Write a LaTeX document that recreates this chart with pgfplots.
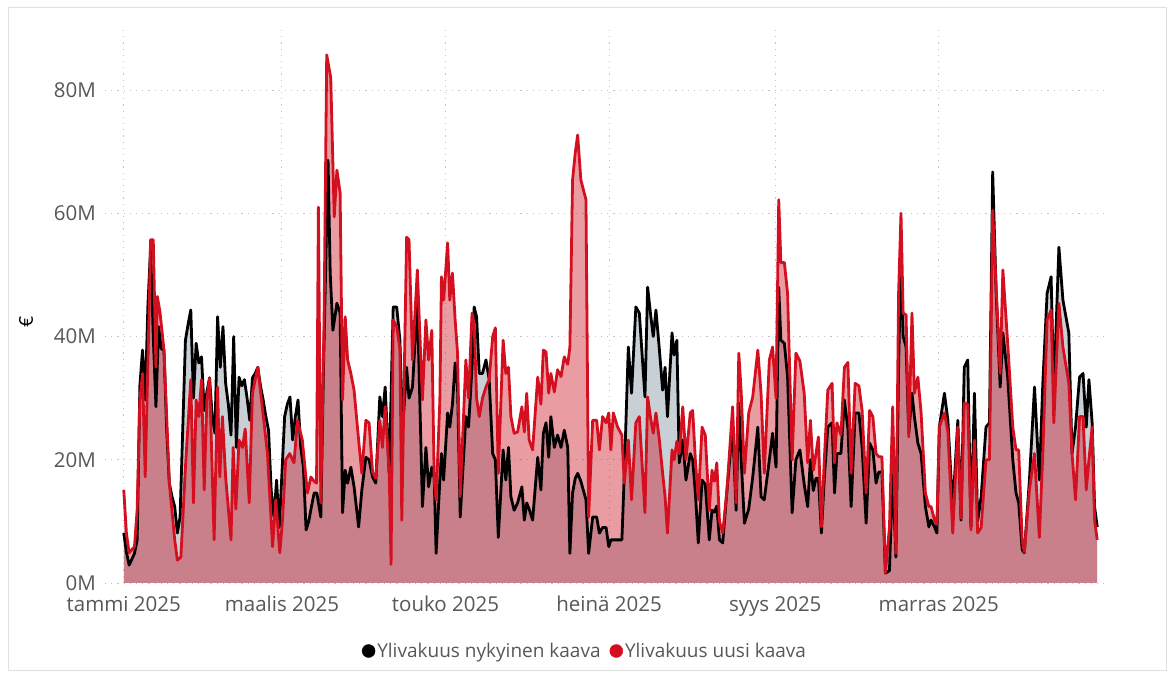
\documentclass[border=0pt]{standalone}
\usepackage{pgfplots}
\usepackage{pgfplotstable}
\pgfplotsset{compat=1.18}
\usepackage{fontspec}
\setmainfont{Open Sans}
\definecolor{redline}{HTML}{D41020}
\definecolor{redfill}{HTML}{CD1423}
\definecolor{grayfill}{HTML}{C8CFD5}
\definecolor{txtgray}{HTML}{575757}
\definecolor{gridgray}{HTML}{C4C4C4}

\pgfplotstableread{
x y
0 8.1
1 5
2 2.9
4 4.8
5 7
6 32
7 37.8
8 29.7
9 45
10 54.3
11 40
12 28.6
13 41.6
14 38
15 37.8
16 25
17 16.2
18 14
19 12.4
20 8.1
21 10.7
22 25
23 39.4
24 42
25 44.3
26 30
27 38.9
28 35.7
29 36.7
30 28
31 31
32 33.3
33 27
34 24.3
35 43.2
36 35
37 41.6
38 32.4
39 29
40 24
41 40
42 22
43 33.4
44 32
45 33
46 30
47 26.4
48 33.3
49 34
50 35
51 32
52 29.7
53 27
54 24.8
55 15
56 10.7
57 16.7
58 9
59 17.8
60 27
61 29
62 30.2
63 23.2
64 27
65 29.7
66 22
67 18.8
68 8.6
69 10
70 12.4
71 14.6
72 14.6
73.5 10.7
74.5 35
75.5 55
76.2 68.6
77 50.3
78 41
79.5 45.4
80.7 43.8
81.6 11.4
82.6 18.3
83.5 16.2
84.7 18.8
85.9 15.6
87.6 9.1
88.8 15.1
90.3 20.4
91.5 20
92.8 17.2
94 16.2
95.5 30.2
96.5 27
97.5 31.8
99 17.8
100.5 44.8
101.8 44.8
103 39.4
104 25
105.5 35
106.4 30
107.7 31.8
109.5 45.9
111.4 12.4
112.7 22
113.7 15.6
114.9 18.8
115.8 17
116.5 4.8
117.9 16.7
118.5 21
119.3 16.7
120.8 27.6
121.6 25.3
122.6 29
123.6 35.7
124.5 31.8
125.5 10.7
127.6 27
128.6 25.3
129.9 35
130.7 44.8
131.6 43.2
132.6 34
133.8 34
135.1 36.2
136.3 33
137.6 21
138.6 20
139.7 7.4
141.5 21.6
142.5 16.7
143.5 22
144.4 14
145.6 11.8
146.9 13
148.5 15.6
149.4 10.2
150.3 13
151.2 12
152.5 10.2
154.4 20.4
155.6 15.1
156.5 24.3
157.5 26
158.5 20.4
159.3 27
160.6 22
161.8 24
163.1 22
164.3 24.8
165.6 22
166.4 4.8
167.4 14.6
168.4 17
169.3 17.8
170.5 16.5
172.4 13.5
173.4 4.8
174.9 10.7
176.4 10.7
177.4 8.1
178.6 9
179.9 9
180.9 5.9
181.7 7
182.6 7
184.2 7
185.8 7
186.7 17.8
188.2 38.3
189.4 30.8
191 44.8
192.3 43.8
194.4 30.2
195.4 48
196.6 43.2
197.5 40
198.5 44.3
199.7 38.3
201 31.3
201.9 35
202.8 27
204.5 40.6
205.3 37
206.3 39.4
207.2 19.5
208.5 23.2
209.7 16.7
211.3 21
212.2 20
213.2 14.6
214.3 6.5
215.7 16.7
216.9 16
218.4 7
219.4 11.8
220.3 11.5
221.2 12.5
222.2 7
223.4 6.5
224.9 14.6
227.1 25.3
228.4 11.8
229.4 29.2
230.3 20
231.5 9.7
233.1 12
234.6 17.2
236.5 25.3
237.7 14
238.9 13.5
240.8 20
242 24.3
243.3 18.8
244.3 48
245.1 39.4
246.4 38.9
247.6 33.4
249.3 11.4
250.7 20
252.2 21.6
253.8 16
255.1 12.4
256.1 20
257.2 15
258.2 17
259.1 17
260.2 8.1
261.3 17
262.6 25.3
264.2 26
265.1 14.6
266 21
267.5 21
268.8 29.7
270.1 25
271.3 12.4
272.8 27.6
274.2 27.6
275.4 22
276.9 9.7
278.2 22.7
279.4 21.6
280.6 16.2
281.6 18
282.8 18
284.1 1.6
285.6 2
286.8 18
288 4.2
289 35
289.9 53
290.7 40
291.8 38.3
292.8 24.3
294 30.8
294.9 27
296.2 22.7
297.4 21
299 12.4
300.3 9.1
301.1 10.2
302.4 9.1
303.3 8.1
304.2 25.3
306.1 30.8
307.4 26.4
309.2 12
311.1 26.4
312.3 10.2
313.5 35
314.8 36.2
316 9.1
317.3 30.8
318.5 10
319.8 14
321.6 25.3
322.9 26
324.1 66.7
325.4 47
326.9 31.8
327.9 40.6
329.7 33.4
331.6 20
332.8 14.6
333.8 13
335.1 5.4
335.9 4.9
337.8 16.7
339.7 31.8
341.5 16.7
342.8 32.4
344.4 47
345.9 49.7
346.9 30.8
348.8 54.5
350.3 45.9
352.5 40.6
353.7 21
355 25.3
356.5 33.4
357.8 34
359 25.3
360 33
361.2 26
362.1 12.4
363.1 9.1
}\blackdata

\pgfplotstableread{
x y
0 15.1
1 8
2 4.9
4 5.9
5 12
6 29.7
7 34
8 17.2
9.5 45
10 55.7
11 55.7
12 35
12.5 46.5
13.5 44
15 37.8
17 16.2
19 7
20 3.7
21.3 4.2
23 18.8
25 33
26 13
27 29.7
28 27
29 33
30 15.1
31 29.7
32 33.3
33.7 7
35 31.8
35.8 17.2
36.8 27
38 17.2
40 7
40.8 22
41.8 12
43 23.2
44.3 22
45.3 25
46.8 13
48 30.8
50 35
51.8 28
53.6 21
55.5 5.9
56.7 13.5
58.2 4.9
59.2 10.2
60.4 20
61.9 21
63.5 19.5
64.8 26.4
66.6 23.2
68.5 14.6
69.8 17.2
71 16.5
71.9 16.2
72.6 61
73.5 13
74.7 42.2
75.7 85.7
77.2 82
78.5 59.4
79.5 67
80.7 63.3
81.6 29.7
82.6 43.2
83.5 36.2
84.7 34
85.9 31.3
87.6 23.2
88.8 17.8
90.3 26.4
91.5 26
92.8 18
94 17
95.5 26.4
96.5 22
97.5 28.6
99 18
99.7 3
100.5 42.7
101.8 41.6
103 38
103.7 10.2
105.5 56.1
106.4 55.7
107.7 36.2
109.5 50.8
111.4 29.7
112.7 42.7
113.7 36.2
114.9 41
115.8 16.7
116.5 13.5
117.9 29.7
118.5 49.7
119.3 45.9
120.8 55.2
121.6 45.9
122.6 50.3
123.6 42.7
124.5 37.3
125.5 14
127.6 36.2
128.6 30
129.9 43.8
130.7 42
131.6 30
132.6 27
133.8 30
135.1 31.8
136.3 33
137.6 40
138.6 41.4
139.7 17.8
141.5 39.4
142.5 34
143.5 35
144.4 27
145.6 24.3
146.9 24.5
148.5 28.6
149.4 24.5
150.3 30.8
151.2 23.2
152.5 21.6
154.4 33.4
155.6 29
156.5 37.8
157.5 37.5
158.5 30.8
159.3 34
160.6 31
161.8 34.6
163.1 33.5
164.3 36.7
165.6 35.5
166.4 38.3
167.4 65.4
168.4 69.8
169.3 72.7
170.5 65.4
172.4 62.2
173.4 10.7
174.9 26.4
176.4 26.4
177.4 21.6
178.6 27
179.9 26
180.9 27.6
181.7 21.6
182.6 27.6
184.2 25.3
185.8 24
186.7 16.2
188.2 23.2
189.4 13.5
191 26
192.3 27
194.4 11.4
195.4 30.2
196.6 26.5
197.5 24.3
198.5 27.6
199.7 23.5
201 17.8
201.9 14
202.8 8.1
204.5 21.6
205.3 20
206.3 23
207.2 21
208.5 28.6
209.7 20
211.3 27.6
212.2 28
213.2 20
214.3 13.5
215.7 25.3
216.9 24
218.4 11.8
219.4 18.3
220.3 16.5
221.2 19.5
222.2 10
223.4 8.1
224.9 14.6
227.1 28.6
228.4 13
229.4 37.3
230.3 31
231.5 17.8
233.1 27.6
234.6 30.2
236.5 37.8
237.7 30.8
238.9 17.8
240.8 36.2
242 38.3
243.3 30
244.3 62.2
245.1 52
246.4 52
247.6 47
249.3 20
250.7 37.3
252.2 36
253.8 30.8
255.1 19.5
256.1 26.4
257.2 18.3
258.2 21
259.1 23.7
260.2 9.1
261.3 20
262.6 31.3
264.2 32.4
265.1 19.5
266 26
267.5 24
268.8 35
270.1 35.8
271.3 17.8
272.8 32.4
274.2 32
275.4 28
276.9 14.6
278.2 28
279.4 27
280.6 21
281.6 20.5
282.8 20.5
284.1 1.6
285.6 9.1
286.8 28.6
288 4.8
289 47
289.9 60
290.7 43.8
291.8 43.5
292.8 23.7
294 43.8
294.9 30.8
296.2 33.4
297.4 27.6
299 14.6
300.3 12.4
301.1 12.4
302.4 10.2
303.3 9.5
304.2 25.3
306.1 27.6
307.4 24.5
309.2 8.1
311.1 25.3
312.3 10.5
313.5 29.2
314.8 29
316 8.6
317.3 23.2
318.5 8.1
319.8 9
321.6 20
322.9 20
324.1 60.5
325.4 48
326.9 34
327.9 50.8
329.7 38.9
331.6 25.3
332.8 21.6
333.8 21.6
335.1 7
335.9 5
337.8 15.1
339.7 21
341.5 7.4
342.8 21
344.4 42.7
345.9 44.3
346.9 26
348.8 45.4
350.3 38.3
352.5 32.4
353.7 21
355 13.5
356.5 27
357.8 27
359 15.1
360 20
361.2 25.3
362.1 10.2
363.1 7
}\reddata

\begin{document}
\begin{tikzpicture}
\path[use as bounding box] (0,0) rectangle (1173bp,677bp);
\draw[color=black!12, line width=0.8bp] (8bp,7bp) rectangle (1166bp,670bp);
\begin{axis}[
  at={(105bp,94bp)}, anchor=south west,
  scale only axis,
  width=1004bp, height=554.6bp,
  xmin=-7, xmax=367.5,
  ymin=0, ymax=90,
  axis line style={draw=none},
  major tick length=0pt,
  xtick={0,59,120,181,243,304},
  xticklabels={tammi 2025,maalis 2025,touko 2025,heinä 2025,syys 2025,marras 2025},
  ytick={0,20,40,60,80},
  yticklabels={0M,20M,40M,60M,80M},
  tick label style={font=\fontsize{20.5bp}{24bp}\selectfont, text=txtgray},
  xticklabel style={anchor=base, yshift=-28.5bp},
  yticklabel style={xshift=-9bp, inner xsep=0pt},
  grid=major,
  major grid style={draw=gridgray, line width=1bp, dash pattern=on 1.2bp off 5bp},
  ylabel={€},
  every axis y label/.style={at={([xshift=-79bp]rel axis cs:0,0.47)}, anchor=center, rotate=90, font=\fontsize{19bp}{22bp}\selectfont, text=black},
  legend columns=2,
  legend style={at={(0.478,-0.1226)}, anchor=center, draw=none, fill=none,
    font=\fontsize{19bp}{22bp}\selectfont, text=txtgray,
    inner xsep=0pt,
    /tikz/every even column/.append style={column sep=7bp}},
  legend image code/.code={\fill[#1] (0.5em,0) circle (6.5bp);},
  legend cell align=left,
]
\addplot[draw=none, fill=grayfill, forget plot] table[x=x,y=y] {\blackdata} \closedcycle;
\addplot[draw=none, fill=redfill, fill opacity=0.42, forget plot] table[x=x,y=y] {\reddata} \closedcycle;
\addplot[black, line width=2.8bp, line join=round, forget plot] table[x=x,y=y] {\blackdata};
\addplot[redline, line width=2.8bp, line join=round, forget plot] table[x=x,y=y] {\reddata};
\addlegendimage{black}
\addlegendentry{Ylivakuus nykyinen kaava}
\addlegendimage{redline}
\addlegendentry{Ylivakuus uusi kaava}
\end{axis}
\end{tikzpicture}
\end{document}
